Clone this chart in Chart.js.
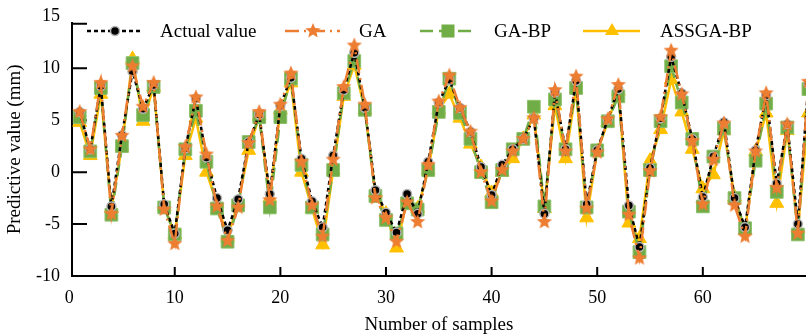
<!DOCTYPE html>
<html>
<head>
<meta charset="utf-8">
<script src="https://cdn.jsdelivr.net/npm/chart.js@4.4.1/dist/chart.umd.min.js"></script>
<style>
  html, body { margin: 0; padding: 0; background: #fff; }
  #wrap { width: 806px; height: 336px; }
</style>
</head>
<body>
<div id="wrap"><canvas id="chart" width="806" height="336"></canvas></div>
<script>
const samples = Array.from({ length: 70 }, (_, i) => i + 1);

const actualValues = [
  5.8, 2.2, 8.3, -3.3, 3.55, 9.7, 6.1, 8.4, -3.1, -5.9,
  2.3, 7.1, 1.4, -2.5, -5.6, -2.6, 2.9, 5.55, -2.1, 6.4,
  9.1, 1.3, -2.8, -5.3, 1.6, 7.9, 11.5, 6.2, -1.75, -3.9,
  -5.8, -2.1, -4.0, 1.0, 6.7, 8.9, 6.2, 3.9, 0.5, -2.2,
  0.7, 2.2, 3.2, 5.2, -4.0, 7.7, 2.2, 8.8, -3.1, 2.1,
  5.1, 8.0, -3.2, -7.2, 0.4, 5.2, 11.1, 7.6, 3.2, -2.4,
  1.5, 4.8, -2.5, -5.3, 2.1, 7.4, -1.1, 4.6, -5.0, 8.5
];
const gaValues = [
  5.8, 2.2, 8.6, -4.0, 3.5, 10.2, 6.3, 8.6, -3.6, -6.9,
  2.4, 7.2, 1.7, -3.3, -6.6, -3.4, 2.8, 5.8, -2.7, 6.5,
  9.5, 1.0, -3.2, -6.2, 1.2, 8.2, 12.2, 6.5, -2.5, -4.4,
  -6.7, -2.9, -4.8, 0.7, 6.8, 9.3, 6.2, 3.9, 0.0, -2.8,
  0.2, 2.0, 3.2, 5.2, -4.8, 7.9, 2.0, 9.2, -3.5, 1.9,
  5.1, 8.4, -4.1, -8.3, 0.1, 5.3, 11.7, 7.5, 3.0, -3.1,
  1.2, 4.7, -3.2, -6.2, 2.0, 7.6, -1.5, 4.6, -5.9, 8.7
];
const gaBpValues = [
  5.3, 2.0, 8.1, -4.1, 2.5, 10.5, 5.5, 8.2, -3.4, -6.0,
  2.2, 5.9, 1.0, -3.5, -6.7, -3.2, 2.9, 5.3, -3.4, 5.3,
  9.0, 0.7, -3.4, -6.0, 0.2, 7.6, 10.7, 6.0, -2.3, -4.6,
  -5.9, -3.0, -3.6, 0.2, 5.8, 9.0, 5.7, 3.2, 0.0, -2.9,
  0.2, 2.2, 3.2, 6.3, -3.3, 7.0, 2.2, 8.1, -3.4, 2.1,
  4.9, 7.3, -3.8, -7.7, 0.2, 4.9, 10.2, 6.7, 3.2, -3.3,
  1.5, 4.2, -2.5, -5.4, 1.1, 6.6, -1.9, 4.3, -6.0, 8.0
];
const assgaBpValues = [
  4.8, 1.6, 7.5, -3.5, 2.5, 10.9, 4.9, 8.2, -3.3, -6.0,
  1.6, 5.2, 0.0, -3.0, -6.3, -3.0, 2.1, 5.4, -2.5, 6.0,
  8.6, 0.0, -3.5, -7.0, 0.2, 7.3, 10.3, 6.0, -2.0, -4.0,
  -7.3, -2.6, -3.5, 0.2, 6.0, 7.5, 5.2, 2.7, 0.5, -2.0,
  0.0, 1.3, 3.2, 5.5, -3.5, 6.4, 1.3, 8.0, -4.4, 2.0,
  4.8, 7.8, -4.9, -6.4, 1.1, 4.1, 8.9, 5.8, 2.2, -1.6,
  -0.25, 4.0, -2.4, -5.6, 2.0, 5.7, -3.0, 4.0, -5.5, 5.7
];

const xTicks = [0, 10, 20, 30, 40, 50, 60];
const yTicks = [-10, -5, 0, 5, 10, 15];

const FONT = "'Liberation Serif'";
const ORANGE = '#ED7D31';
const GREEN = '#70AD47';
const GOLD = '#FFC000';

function makeStar(r, color) {
  const c = document.createElement('canvas');
  const s = Math.ceil(r * 2 + 2);
  c.width = s;
  c.height = s;
  const g = c.getContext('2d');
  g.beginPath();
  for (let k = 0; k < 10; k++) {
    const rad = k % 2 ? r * 0.45 : r;
    const a = -Math.PI / 2 + k * Math.PI / 5;
    g.lineTo(s / 2 + rad * Math.cos(a), s / 2 + rad * Math.sin(a));
  }
  g.closePath();
  g.fillStyle = color;
  g.fill();
  return c;
}
const starImg = makeStar(8, ORANGE);

const toPoints = vals => vals.map((v, i) => ({ x: samples[i], y: v }));

// inward tick marks on both axes
const axisTicks = {
  id: 'axisTicks',
  beforeDatasetsDraw(chart) {
    const { ctx, chartArea, scales } = chart;
    ctx.save();
    ctx.strokeStyle = '#000';
    ctx.lineWidth = 2;
    ctx.beginPath();
    yTicks.forEach(v => {
      const py = Math.max(scales.y.getPixelForValue(v), chartArea.top + 1);
      ctx.moveTo(chartArea.left, py);
      ctx.lineTo(chartArea.left + 15, py);
    });
    xTicks.forEach(v => {
      if (v === 0) return;
      const px = scales.x.getPixelForValue(v);
      ctx.moveTo(px, chartArea.bottom);
      ctx.lineTo(px, chartArea.bottom - 9);
    });
    ctx.stroke();
    ctx.restore();
  }
};

const legendItems = [
  { text: 'Actual value', x0: 87, x1: 142, mx: 115, tx: 160, color: '#000', dash: [4, 3], marker: 'circle' },
  { text: 'GA', x0: 285, x1: 340, mx: 313, tx: 359, color: ORANGE, dash: [14, 5, 2, 5], marker: 'star' },
  { text: 'GA-BP', x0: 420, x1: 477, mx: 448, tx: 494, color: GREEN, dash: [13, 6], marker: 'rect' },
  { text: 'ASSGA-BP', x0: 583, x1: 640, mx: 612, tx: 660, color: GOLD, dash: [], marker: 'triangle' }
];

const customLegend = {
  id: 'customLegend',
  afterDatasetsDraw(chart) {
    const ctx = chart.ctx;
    const y = 31;
    ctx.save();
    legendItems.forEach(it => {
      ctx.strokeStyle = it.color;
      ctx.lineWidth = 2.5;
      ctx.setLineDash(it.dash);
      ctx.beginPath();
      ctx.moveTo(it.x0, y);
      ctx.lineTo(it.x1, y);
      ctx.stroke();
      ctx.setLineDash([]);
      if (it.marker === 'circle') {
        ctx.beginPath();
        ctx.arc(it.mx, y, 4.5, 0, Math.PI * 2);
        ctx.fillStyle = '#000';
        ctx.fill();
        ctx.strokeStyle = '#b5b5b5';
        ctx.lineWidth = 1.5;
        ctx.stroke();
      } else if (it.marker === 'star') {
        ctx.drawImage(starImg, it.mx - starImg.width / 2, y - starImg.height / 2);
      } else if (it.marker === 'rect') {
        ctx.fillStyle = GREEN;
        ctx.fillRect(it.mx - 6.5, y - 6.5, 13, 13);
      } else {
        ctx.beginPath();
        ctx.moveTo(it.mx, y - 8);
        ctx.lineTo(it.mx + 7, y + 4);
        ctx.lineTo(it.mx - 7, y + 4);
        ctx.closePath();
        ctx.fillStyle = GOLD;
        ctx.fill();
      }
      ctx.fillStyle = '#000';
      ctx.font = '19px ' + FONT;
      ctx.textBaseline = 'middle';
      ctx.textAlign = 'left';
      ctx.fillText(it.text, it.tx, y + 1);
    });
    ctx.restore();
  }
};

const ctx = document.getElementById('chart').getContext('2d');
new Chart(ctx, {
  type: 'line',
  data: {
    datasets: [
      {
        label: 'Actual value',
        data: toPoints(actualValues),
        borderColor: '#000',
        borderWidth: 2.5,
        borderDash: [4, 3],
        pointStyle: 'circle',
        pointRadius: 4.5,
        pointBackgroundColor: '#000',
        pointBorderColor: '#b5b5b5',
        pointBorderWidth: 1.5,
        order: 1
      },
      {
        label: 'GA',
        data: toPoints(gaValues),
        borderColor: ORANGE,
        borderWidth: 2.5,
        borderDash: [14, 5, 2, 5],
        pointStyle: starImg,
        pointRadius: 8,
        order: 0
      },
      {
        label: 'GA-BP',
        data: toPoints(gaBpValues),
        borderColor: GREEN,
        borderWidth: 2.5,
        borderDash: [13, 6],
        pointStyle: 'rect',
        pointRadius: 9,
        pointBackgroundColor: GREEN,
        pointBorderColor: '#8cc06a',
        pointBorderWidth: 1,
        order: 2
      },
      {
        label: 'ASSGA-BP',
        data: toPoints(assgaBpValues),
        borderColor: GOLD,
        borderWidth: 2.5,
        pointStyle: 'triangle',
        pointRadius: 8,
        pointBackgroundColor: GOLD,
        pointBorderColor: GOLD,
        pointBorderWidth: 1,
        order: 3
      }
    ]
  },
  options: {
    responsive: false,
    animation: false,
    datasets: { line: { tension: 0, clip: false } },
    layout: { autoPadding: false, padding: { top: 20, right: 0, bottom: 0, left: 0 } },
    plugins: {
      legend: { display: false },
      tooltip: { enabled: false }
    },
    scales: {
      x: {
        type: 'linear',
        min: 0.27,
        max: 69.77,
        afterBuildTicks: s => { s.ticks = xTicks.map(v => ({ value: v })); },
        afterFit: s => { s.height = 60; },
        grid: { display: false, drawTicks: false },
        border: { display: true, color: '#000', width: 2 },
        ticks: {
          color: '#000',
          padding: 11,
          maxRotation: 0,
          font: { family: FONT, size: 18 }
        },
        title: {
          display: true,
          text: 'Number of samples',
          color: '#000',
          padding: { top: 0, bottom: 0 },
          font: { family: FONT, size: 19 }
        }
      },
      y: {
        min: -10,
        max: 14.38,
        afterBuildTicks: s => { s.ticks = yTicks.map(v => ({ value: v })); },
        afterFit: s => { s.width = 72; },
        grid: { display: false, drawTicks: false },
        border: { display: true, color: '#000', width: 2 },
        ticks: {
          color: '#000',
          padding: 12,
          font: { family: FONT, size: 18 }
        },
        title: {
          display: true,
          text: 'Predictive value (mm)',
          color: '#000',
          padding: { top: 4, bottom: 0 },
          font: { family: FONT, size: 19 }
        }
      }
    }
  },
  plugins: [axisTicks, customLegend]
});
</script>
</body>
</html>
